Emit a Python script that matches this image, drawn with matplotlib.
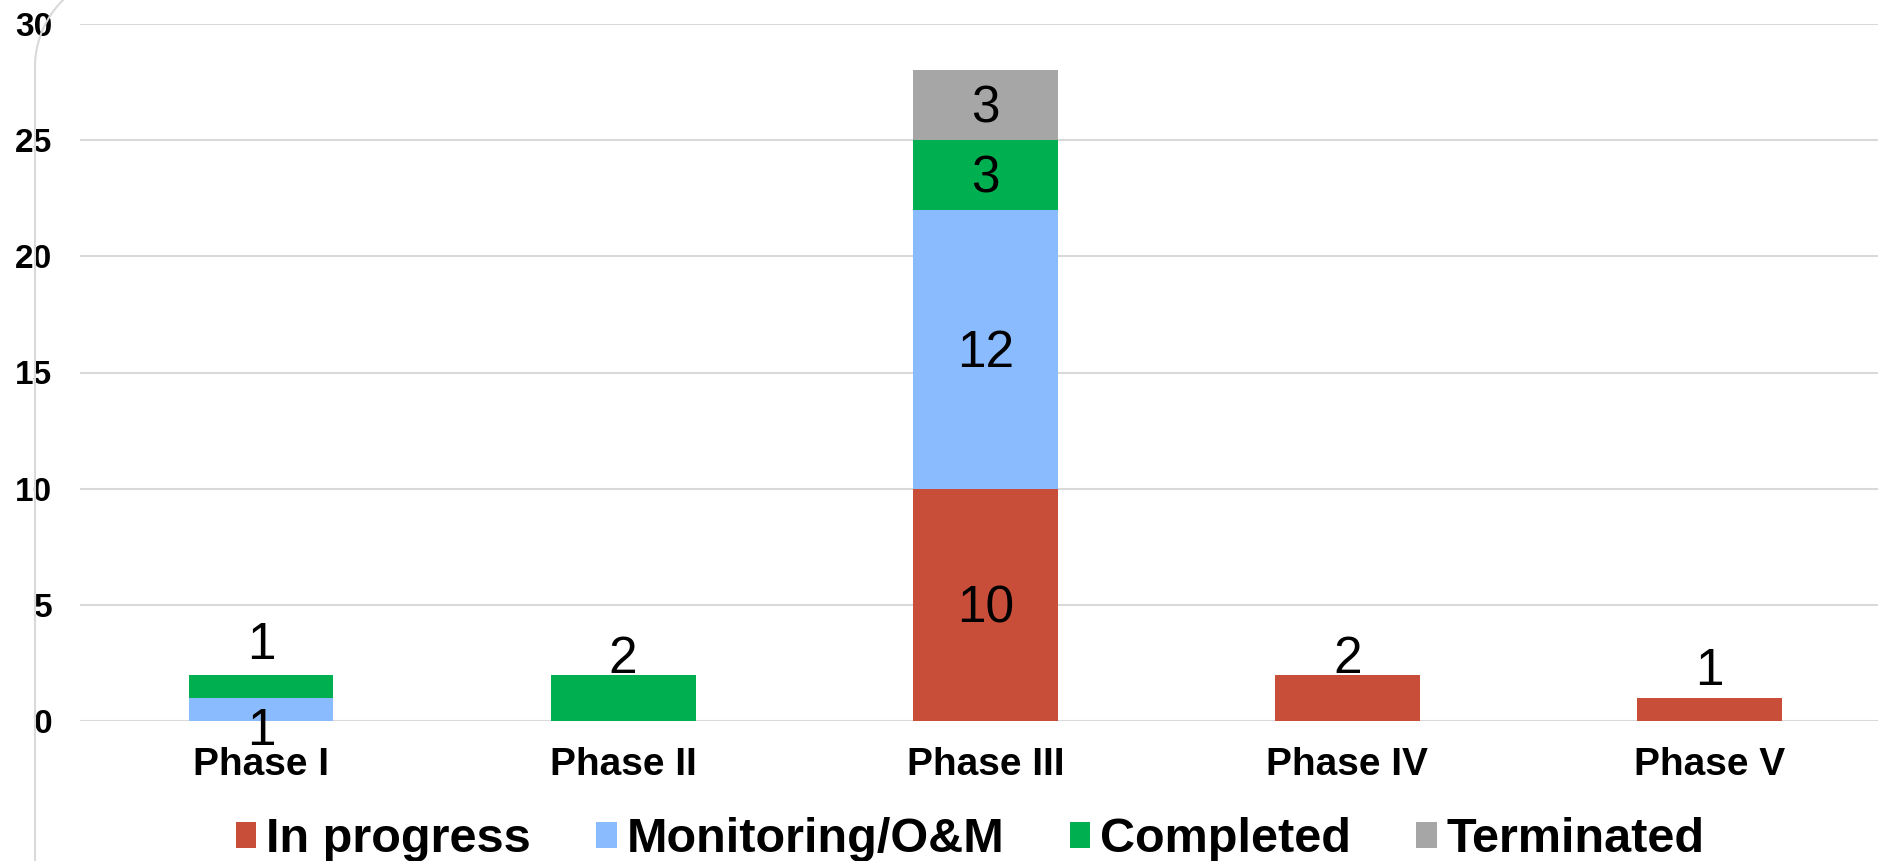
import numpy as np
import matplotlib.pyplot as plt

plt.rcParams['font.family'] = ['Liberation Sans', 'DejaVu Sans']

categories = ['Phase I', 'Phase II', 'Phase III', 'Phase IV', 'Phase V']
in_progress = [0, 0, 10, 2, 1]
monitoring = [1, 0, 12, 0, 0]
completed = [1, 2, 3, 0, 0]
terminated = [0, 0, 3, 0, 0]

series_names = ['In progress', 'Monitoring/O&M', 'Completed', 'Terminated']
colors = ['#C84E39', '#8ABBFF', '#00B050', '#A6A6A6']

# labels that were dragged off the segment centre (points, vertical shift from segment top/centre)
label_shift = {
    (0, 1): ('center', -13),
    (0, 2): ('top', 24),
    (1, 2): ('top', 14),
    (3, 0): ('top', 14),
    (4, 0): ('top', 22),
}

W, H = 1878, 861
fig = plt.figure(figsize=(W / 100, H / 100), dpi=100)
ax = fig.add_axes([80 / W, (H - 721) / H, 1 - 80 / W, (721 - 24) / H])

x = np.arange(len(categories))
data = [in_progress, monitoring, completed, terminated]
bottom = np.zeros(len(categories))
for s, (vals, name, col) in enumerate(zip(data, series_names, colors)):
    vals = np.array(vals, dtype=float)
    ax.bar(x, vals, 0.4, bottom=bottom, color=col, label=name, zorder=3)
    for i, v in enumerate(vals):
        if v == 0:
            continue
        mode, dy = label_shift.get((i, s), ('center', 0))
        y = bottom[i] + v if mode == 'top' else bottom[i] + v / 2
        ax.annotate(str(int(v)), (x[i], y), xytext=(0, dy - 3), textcoords='offset points',
                    ha='center', va='center', fontsize=37, color='black', zorder=4)
    bottom += vals

ax.set_xlim(-0.5, 4 + (W - 1709.5) / 362)
ax.set_ylim(0, 30)
ax.set_yticks(range(0, 31, 5))
ax.set_xticks(x)
ax.set_xticklabels(categories, fontsize=28, fontweight='bold')
for lab in ax.get_yticklabels():
    lab.set_fontsize(24)
    lab.set_fontweight('bold')
ax.tick_params(axis='y', length=0, pad=20)
ax.tick_params(axis='x', length=0, pad=19)
ax.grid(axis='y', color='#D9D9D9', linewidth=1.5, zorder=0)
ax.set_axisbelow(True)
for sp in ax.spines.values():
    sp.set_visible(False)

leg = fig.legend(loc='center', bbox_to_anchor=(970 / W, (H - 840) / H), ncol=4,
                 frameon=False, prop={'size': 35, 'weight': 'bold'},
                 handlelength=0.42, handleheight=0.45, handletextpad=0.2,
                 columnspacing=1.35, borderpad=0)

# rounded border of the chart area, mostly cropped (pixel coords from top-left)
r = 94
cx, cy = 35 + r, 67
ang = np.linspace(np.pi, np.pi + np.arccos((cx - 63) / r) * 1.05, 40)
bx = np.concatenate([[35], cx + r * np.cos(ang)])
by = np.concatenate([[H + 5], cy + r * np.sin(ang)])
fig.add_artist(plt.Line2D(bx / W, 1 - by / H, color='#D9D9D9', linewidth=1.5,
                          transform=fig.transFigure))

fig.savefig('out.png', dpi=100)
